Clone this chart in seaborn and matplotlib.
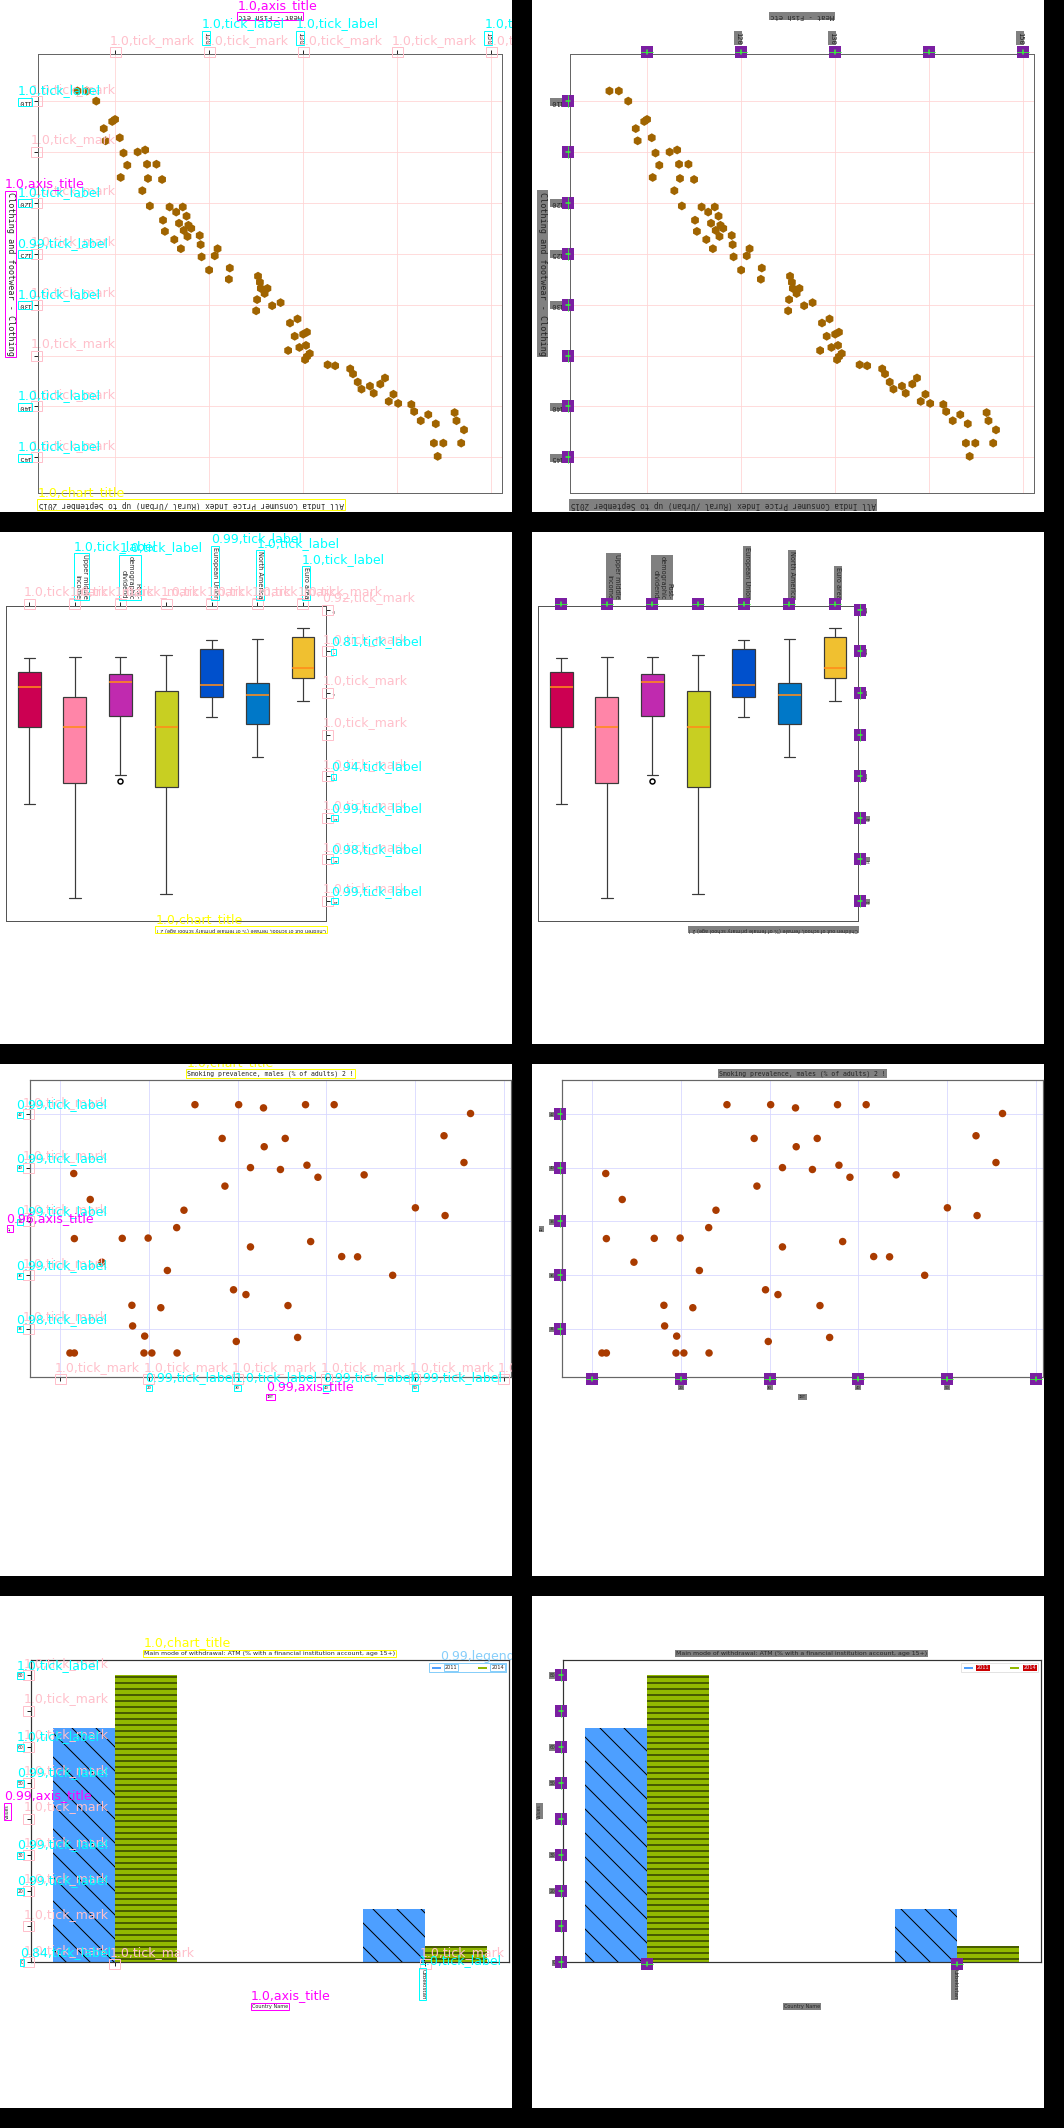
import numpy as np
import pandas as pd
import matplotlib
matplotlib.use("Agg")
import matplotlib.pyplot as plt
from matplotlib.patches import Rectangle, Patch
from matplotlib.lines import Line2D
from matplotlib.transforms import Bbox, IdentityTransform
import seaborn as sns

# -------------------------------
# 1. Data
# -------------------------------
# panel 1: CPI scatter (chart is shown flipped top/bottom)
cpi_meat_fish = [106.0, 107.0, 108.0, 108.8, 109.7, 110.0, 109.0, 110.5, 110.9, 112.4,
                 113.2, 111.3, 113.4, 114.4, 110.6, 113.5, 115.0, 112.9, 113.7, 115.8,
                 116.5, 117.2, 117.6, 115.1, 116.8, 117.8, 117.3, 118.1, 115.3, 117.7,
                 116.3, 117.0, 119.0, 119.1, 119.2, 120.0, 120.6, 120.9, 122.2, 122.1,
                 125.2, 125.4, 125.5, 126.2, 125.9, 125.1, 125.0, 126.7, 127.6, 128.6,
                 129.4, 129.1, 130.0, 130.4, 130.3, 129.6, 128.4, 130.7, 130.4, 130.2,
                 132.6, 133.4, 135.0, 135.3, 135.8, 136.2, 137.1, 137.5, 138.2, 138.7,
                 139.1, 139.6, 140.1, 141.5, 141.8, 142.5, 143.3, 144.1, 143.9, 144.9,
                 144.3, 146.1, 146.3, 147.1, 146.8]
cpi_clothing = [109.0, 109.0, 110.0, 112.7, 112.0, 111.8, 113.9, 113.6, 115.1, 115.0,
                114.8, 116.3, 116.2, 116.2, 117.5, 117.6, 117.7, 118.8, 120.3, 120.4,
                120.9, 120.4, 121.3, 121.7, 122.0, 122.2, 122.7, 122.5, 122.8, 123.3,
                123.6, 124.5, 123.2, 124.1, 125.3, 126.6, 125.2, 124.5, 126.4, 127.5,
                127.2, 127.8, 128.4, 128.4, 128.9, 129.5, 130.6, 130.1, 129.8, 131.8,
                131.4, 133.1, 132.9, 132.7, 134.0, 134.2, 134.5, 134.8, 135.1, 135.4,
                135.9, 136.0, 136.3, 136.8, 137.6, 138.3, 138.0, 138.7, 137.8, 137.2,
                139.5, 138.8, 139.7, 139.8, 140.5, 141.4, 140.8, 141.7, 143.6, 143.6,
                144.9, 140.6, 141.4, 142.3, 143.6]
cpi_xticks = [110, 120, 130, 140, 150]
cpi_xticklabels = ["", "120", "130", "", "150"]
cpi_yticks = [110, 115, 120, 125, 130, 135, 140, 145]
cpi_yticklabels = ["110", "", "120", "125", "130", "", "140", "145"]
cpi_title = "All India Consumer Price Index (Rural /Urban) up to September 2015"
cpi_xlabel = "Meat - Fish etc"
cpi_ylabel = "Clothing and footwear - Clothing"

# panel 2: box plot (chart is shown rotated half a turn)
box_values = [
    [2.32, 2.66, 3.00, 3.35, 3.70, 4.67, 5.64, 7.48, 9.32],
    [2.28, 3.23, 4.18, 4.92, 5.66, 7.00, 8.34, 11.11, 13.88],
    [2.26, 2.68, 3.10, 3.29, 3.48, 4.30, 5.12, 7.96, 8.26],
    [2.18, 3.04, 3.90, 4.78, 5.66, 7.09, 8.52, 11.09, 13.66],
    [1.46, 1.66, 1.86, 2.75, 3.64, 3.92, 4.20, 4.69, 5.18],
    [1.42, 2.46, 3.50, 3.81, 4.12, 4.80, 5.48, 6.28, 7.08],
    [0.88, 1.10, 1.32, 2.05, 2.78, 3.02, 3.26, 3.82, 4.38],
]
box_xticklabels = ["", "Upper middle\nincome", "Post-\ndemographic\ndividend", "",
                   "European Union", "North America", "Euro area"]
box_colors = ["#cc0052", "#ff85a8", "#c02aaf", "#c8cf22", "#0050cc", "#0078c8", "#f0c030"]
box_yticks = [0, 2, 4, 6, 8, 10, 12, 14]
box_yticklabels = ["0", "2", "4", "", "8", "10", "12", "14"]
box_title = "Children out of school, female (% of female primary school age) 2 !"

# panel 3: smoking scatter
smoke_x = [25.19, 30.12, 32.92, 37.66, 40.89, 56.27, 28.26, 35.37, 33.00, 53.28,
           31.45, 34.83, 37.82, 39.06, 44.27, 55.53, 11.52, 28.57, 13.38, 23.95,
           50.05, 53.40, 23.13, 11.59, 16.99, 19.91, 38.24, 31.45, 41.74, 43.53,
           14.70, 22.08, 47.49, 29.54, 30.94, 18.08, 21.34, 35.68, 18.16, 19.52,
           29.85, 36.77, 11.09, 11.59, 19.44, 20.33, 23.17]
smoke_y = [42.36, 42.36, 42.24, 42.36, 42.36, 42.03, 41.10, 41.10, 40.79, 41.20,
           40.01, 39.94, 40.10, 39.65, 39.74, 40.20, 39.79, 39.32, 38.82, 38.42,
           38.51, 38.22, 37.77, 37.36, 37.37, 37.38, 37.25, 37.05, 36.69, 36.68,
           36.48, 36.17, 35.99, 35.45, 35.27, 34.87, 34.78, 34.86, 34.10, 33.72,
           33.52, 33.67, 33.09, 33.09, 33.09, 33.09, 33.09]
smoke_xticks = [10, 20, 30, 40, 50, 60]
smoke_xticklabels = ["", "20", "30", "40", "50", ""]
smoke_yticks = [34, 36, 38, 40, 42]
smoke_yticklabels = ["34", "36", "38", "40", "42"]
smoke_title = "Smoking prevalence, males (% of adults) 2 !"

# panel 4: ATM bars
atm_countries = [" ", "Uzbekistan"]
atm_2011 = [65.2, 14.8]
atm_2014 = [80.1, 4.6]
atm_years = ["2011", "2014"]
atm_colors = {"2011": "#4d9fff", "2014": "#92b900"}
atm_hatches = ["\\", "--"]
atm_yticks = [0, 10, 20, 30, 40, 50, 60, 70, 80]
atm_yticklabels = ["0", "", "20", "30", "", "50", "60", "", "80"]
atm_title = "Main mode of withdrawal: ATM (% with a financial institution account, age 15+)"

# detector scores written on the left copies
cpi_scores = dict(xmark=["1.0"] * 5, xlabel=["1.0", "1.0", "1.0"], ymark=["1.0"] * 8,
                  ylabel=["1.0", "1.0", "0.99", "1.0", "1.0", "1.0"],
                  xtitle="1.0", ytitle="1.0", title="1.0")
box_scores = dict(xmark=["1.0"] * 7, xlabel=["1.0", "1.0", "0.99", "1.0", "1.0"],
                  ymark=["0.92", "1.0", "1.0", "1.0", "1.0", "1.0", "1.0", "1.0"],
                  ylabel=[None, "0.81", None, "0.94", "0.99", "0.98", "0.99"],
                  title="1.0")
smoke_scores = dict(xmark=["1.0"] * 6, xlabel=["0.99", "1.0", "0.99", "0.99"],
                    ymark=["1.0"] * 5, ylabel=["0.98", "0.99", "0.99", "0.99", "0.99"],
                    xtitle="0.99", ytitle="0.96", title="1.0")
atm_scores = dict(xmark=["1.0", "1.0"], xlabel=["1.0"], ymark=["1.0"] * 9,
                  ylabel=["0.84", "0.99", "0.99", "0.99", "1.0", "1.0"],
                  xtitle="1.0", ytitle="0.99", title="1.0", legend="0.99")

# -------------------------------
# 2. Figure and panels
# -------------------------------
sns.set_style("ticks")
plt.rcParams["font.family"] = ["DejaVu Sans"]
plt.rcParams["hatch.linewidth"] = 1.0

W, H, DPI = 1064, 2128, 72
PANEL = 512
COLS = [0, 532]
ROWS = [0, 532, 1064, 1596]
MONO = "DejaVu Sans Mono"
TICK_LEN = 4
ID = IdentityTransform()

fig = plt.figure(figsize=(W / DPI, H / DPI), dpi=DPI, facecolor="black")


def panel_axes(col, row, x0, y0, x1, y1):
    px, py = COLS[col], ROWS[row]
    fig.add_artist(Rectangle((px / W, 1 - (py + PANEL) / H), PANEL / W, PANEL / H,
                             transform=fig.transFigure, facecolor="white",
                             edgecolor="none", zorder=-2))
    ax = fig.add_axes([(px + x0) / W, 1 - (py + y1) / H, (x1 - x0) / W, (y1 - y0) / H])
    clip = Bbox.from_extents(px, H - py - PANEL, px + PANEL, H - py)
    return ax, clip


def spines(ax, color, lw):
    for s in ax.spines.values():
        s.set_visible(True)
        s.set_color(color)
        s.set_linewidth(lw)


def draw_cpi(ax):
    sns.scatterplot(x=cpi_meat_fish, y=cpi_clothing, marker="h", s=80, color="#a06400",
                    edgecolor="none", linewidth=0, ax=ax)
    ax.set_xlim(101.84, 151.16)
    ax.set_ylim(148.5, 105.4)
    ax.grid(True, color="#ffd4d4", linewidth=0.8)
    ax.set_axisbelow(True)
    ax.xaxis.tick_top()
    ax.set_xticks(cpi_xticks)
    ax.set_xticklabels(cpi_xticklabels, rotation=270, ha="right", va="bottom",
                       fontsize=7, family=MONO)
    ax.set_yticks(cpi_yticks)
    ax.set_yticklabels(cpi_yticklabels, rotation=180, fontsize=7, family=MONO)
    ax.tick_params(axis="x", length=TICK_LEN, width=1, pad=6)
    ax.tick_params(axis="y", length=TICK_LEN, width=1, pad=3)
    ax.set_xlabel(cpi_xlabel, fontsize=7, family=MONO, rotation=180, va="bottom")
    ax.xaxis.set_label_coords(0.5, 1.08)
    ax.set_ylabel(cpi_ylabel, fontsize=8.5, family=MONO, rotation=270,
                  rotation_mode="default", va="center", ha="center")
    ax.yaxis.set_label_coords(-0.06, 0.5)
    spines(ax, "#666666", 1.0)
    return ax.text(0, -0.017, cpi_title, transform=ax.transAxes, rotation=180,
                   ha="left", va="top", fontsize=7.8, family=MONO)


def draw_box(ax):
    xs = np.repeat(np.arange(len(box_values)), [len(v) for v in box_values])
    ys = np.concatenate(box_values)
    sns.boxplot(x=xs, y=ys, hue=xs, palette=box_colors, orient="x", width=0.5,
                saturation=1, linecolor="#3a3a3a", linewidth=1.2, whis=1.5,
                medianprops=dict(color="#ff8c1a", linewidth=1.6),
                flierprops=dict(marker="o", markersize=5, markerfacecolor="none",
                                markeredgecolor="black", markeredgewidth=1.5),
                legend=False, ax=ax)
    ax.set_ylim(14.98, -0.21)
    ax.set_xlim(-0.5, 6.5)
    ax.xaxis.tick_top()
    ax.set_xticks(range(len(box_xticklabels)))
    ax.set_xticklabels(box_xticklabels, rotation=270, ha="left", va="bottom",
                       fontsize=6.5, multialignment="right")
    ax.yaxis.tick_right()
    ax.set_yticks(box_yticks)
    ax.set_yticklabels(box_yticklabels, rotation=180, fontsize=4)
    ax.tick_params(length=TICK_LEN, width=1, pad=2.5)
    ax.set_xlabel("")
    ax.set_ylabel("")
    spines(ax, "#555555", 1.0)
    return ax.text(1.0, -0.019, box_title, transform=ax.transAxes, rotation=180,
                   ha="right", va="top", fontsize=5)


def draw_smoke(ax):
    sns.scatterplot(x=smoke_x, y=smoke_y, s=56, color="#a93b00", edgecolor="none",
                    linewidth=0, ax=ax)
    ax.set_xlim(6.62, 60.8)
    ax.set_ylim(32.19, 43.27)
    ax.grid(True, color="#d6d6ff", linewidth=0.8)
    ax.set_axisbelow(True)
    ax.set_xticks(smoke_xticks)
    ax.set_xticklabels(smoke_xticklabels, fontsize=4, family=MONO)
    ax.set_yticks(smoke_yticks)
    ax.set_yticklabels(smoke_yticklabels, fontsize=4, family=MONO)
    ax.tick_params(axis="x", length=TICK_LEN, width=1, pad=4.5)
    ax.tick_params(axis="y", length=TICK_LEN, width=1, pad=4)
    ax.set_xlabel("IBT", fontsize=4, family=MONO)
    ax.xaxis.set_label_coords(0.5, -0.06)
    ax.set_ylabel("ID", fontsize=4, family=MONO)
    ax.yaxis.set_label_coords(-0.039, 0.5)
    spines(ax, "#666666", 1.2)
    return ax.set_title(smoke_title, fontsize=6.5, family=MONO, pad=5)


def draw_atm(ax):
    df = pd.DataFrame({
        "Country Name": atm_countries * 2,
        "Values": atm_2011 + atm_2014,
        "year": [atm_years[0]] * 2 + [atm_years[1]] * 2,
    })
    sns.barplot(data=df, x="Country Name", y="Values", hue="year", palette=atm_colors,
                width=0.4, saturation=1, edgecolor="black", linewidth=0,
                errorbar=None, legend=False, ax=ax)
    for container, hatch in zip(ax.containers, atm_hatches):
        for bar in container:
            bar.set_hatch(hatch)
    ax.set_ylim(0, 84.1)
    ax.set_xlim(-0.27, 1.27)
    ax.set_yticks(atm_yticks)
    ax.set_yticklabels(atm_yticklabels, fontsize=4.5)
    ax.tick_params(axis="x", labelrotation=270, labelsize=5.5, length=TICK_LEN, width=1, pad=2.5)
    for lab in ax.get_xticklabels():
        lab.set_ha("right")
        lab.set_va("top")
    ax.tick_params(axis="y", length=TICK_LEN, width=1, pad=3.5)
    ax.set_xlabel("Country Name", fontsize=5)
    ax.xaxis.set_label_coords(0.5, -0.138)
    ax.set_ylabel("Values", fontsize=4.5)
    ax.yaxis.set_label_coords(-0.044, 0.5)
    handles = [Patch(facecolor=atm_colors[y], label=y) for y in atm_years]
    leg = ax.legend(handles=handles, loc="upper right", bbox_to_anchor=(0.994, 0.991),
                    borderaxespad=0, ncol=2, fontsize=5, handlelength=2, handleheight=0.6,
                    handletextpad=0.8, columnspacing=4, borderpad=0.4, frameon=True,
                    fancybox=False, edgecolor="#dddddd")
    spines(ax, "#333333", 1.2)
    return ax.set_title(atm_title, fontsize=6.2, pad=5.5), leg


# -------------------------------
# 3. Overlays: detector boxes (left) and masked copy (right)
# -------------------------------
C_LABEL, C_MARK, C_AXIS, C_TITLE, C_LEGEND = "#00ffff", "#ffc0cb", "#ff00ff", "#ffff00", "#87cefa"


def tick_info(ax, which):
    if which == "x":
        top = ax.xaxis.get_ticks_position() == "top"
        base = ax.bbox.y1 + TICK_LEN / 2 if top else ax.bbox.y0 - TICK_LEN / 2
        yref = ax.get_ylim()[0]
        pts = [(ax.transData.transform((v, yref))[0], base) for v in ax.get_xticks()]
        ticks = ax.xaxis.get_major_ticks()
        labs = [t.label2 if top else t.label1 for t in ticks]
    else:
        right = ax.yaxis.get_ticks_position() == "right"
        base = ax.bbox.x1 + TICK_LEN / 2 if right else ax.bbox.x0 - TICK_LEN / 2
        xref = ax.get_xlim()[0]
        pts = [(base, ax.transData.transform((xref, v))[1]) for v in ax.get_yticks()]
        ticks = ax.yaxis.get_major_ticks()
        labs = [t.label2 if right else t.label1 for t in ticks]
    labs = [lab for lab in labs[:len(pts)] if lab.get_text().strip()]
    return pts, labs


def put_box(x0, y0, x1, y1, color, text, clip, tx=None, ha="left"):
    r = Rectangle((x0, y0), x1 - x0, y1 - y0, transform=ID, fill=False,
                  edgecolor=color, linewidth=1.0, zorder=10)
    fig.add_artist(r)
    r.set_clip_box(clip)
    if text:
        t = fig.text(x0 if tx is None else tx, y1 + 0.5, text, transform=ID, color=color,
                     fontsize=12.5, ha=ha, va="bottom", zorder=11)
        t.set_clip_box(clip)


def text_box(t, rend, pad=1):
    bb = t.get_window_extent(rend)
    return bb.x0 - pad, bb.y0 - pad, bb.x1 + pad, bb.y1 + pad


def annotate(ax, title, sc, clip, leg=None):
    rend = fig.canvas.get_renderer()
    for which in ("x", "y"):
        pts, _ = tick_info(ax, which)
        for (x, y), s in zip(pts, sc[which + "mark"]):
            put_box(x - 5.5, y - 5, x + 5.5, y + 5, C_MARK, s + ",tick_mark", clip)
    for which in ("x", "y"):
        _, labs = tick_info(ax, which)
        for lab, s in zip(labs, sc[which + "label"]):
            if s is not None:
                put_box(*text_box(lab, rend), C_LABEL, s + ",tick_label", clip)
    for lab, key in ((ax.xaxis.label, "xtitle"), (ax.yaxis.label, "ytitle")):
        if sc.get(key):
            put_box(*text_box(lab, rend), C_AXIS, sc[key] + ",axis_title", clip)
    put_box(*text_box(title, rend), C_TITLE, sc["title"] + ",chart_title", clip)
    if leg is not None:
        x0, y0, x1, y1 = text_box(leg, rend, pad=0)
        put_box(x0, y0, x1, y1, C_LEGEND, sc["legend"] + ",legend", clip, tx=x1 + 9, ha="right")
        for t in leg.get_texts():
            put_box(*text_box(t, rend), C_LEGEND, None, clip)


def redact(ax, title, clip, leg=None):
    gray = dict(boxstyle="square,pad=0.15", facecolor="#808080", edgecolor="none")
    for which in ("x", "y"):
        pts, labs = tick_info(ax, which)
        for lab in labs:
            lab.set_bbox(gray)
        for x, y in pts:
            sq = Rectangle((x - 6, y - 6), 12, 12, transform=ID, facecolor="#7b1fa2",
                           edgecolor="none", zorder=5)
            fig.add_artist(sq)
            if which == "x":
                tick = Line2D([x, x], [y - TICK_LEN / 2, y + TICK_LEN / 2])
                along = Line2D([x - 6, x + 6], [y, y])
            else:
                tick = Line2D([x - TICK_LEN / 2, x + TICK_LEN / 2], [y, y])
                along = Line2D([x, x], [y - 6, y + 6])
            for ln, lw in ((tick, 1.5), (along, 0.8)):
                ln.set_transform(ID)
                ln.set_color("#33ff33")
                ln.set_linewidth(lw)
                ln.set_zorder(6)
                fig.add_artist(ln)
    for lab in (ax.xaxis.label, ax.yaxis.label, title):
        if lab.get_text().strip():
            lab.set_bbox(gray)
    if leg is not None:
        for t in leg.get_texts():
            t.set_bbox(dict(boxstyle="square,pad=0.1", facecolor="#cc0000", edgecolor="none"))
            t.set_color("#e8e8ff")


# panel geometry inside a 512 px tile: (x0, y0, x1, y1) of the plotting frame
frames = {
    "cpi": (38.3, 54.3, 502.2, 493.0),
    "box": (6.4, 73.5, 325.8, 389.1),
    "smoke": (30.3, 16.3, 510.7, 313.1),
    "atm": (30.9, 64.4, 508.9, 366.3),
}

built = []
for row, (key, drawer, scores) in enumerate([("cpi", draw_cpi, cpi_scores),
                                             ("box", draw_box, box_scores),
                                             ("smoke", draw_smoke, smoke_scores),
                                             ("atm", draw_atm, atm_scores)]):
    for col in (0, 1):
        ax, clip = panel_axes(col, row, *frames[key])
        out = drawer(ax)
        title, leg = out if isinstance(out, tuple) else (out, None)
        built.append((col, ax, title, leg, scores, clip))

fig.canvas.draw()
for col, ax, title, leg, scores, clip in built:
    if col == 0:
        annotate(ax, title, scores, clip, leg)
    else:
        redact(ax, title, clip, leg)

fig.savefig("out.png", dpi=DPI, facecolor=fig.get_facecolor())
